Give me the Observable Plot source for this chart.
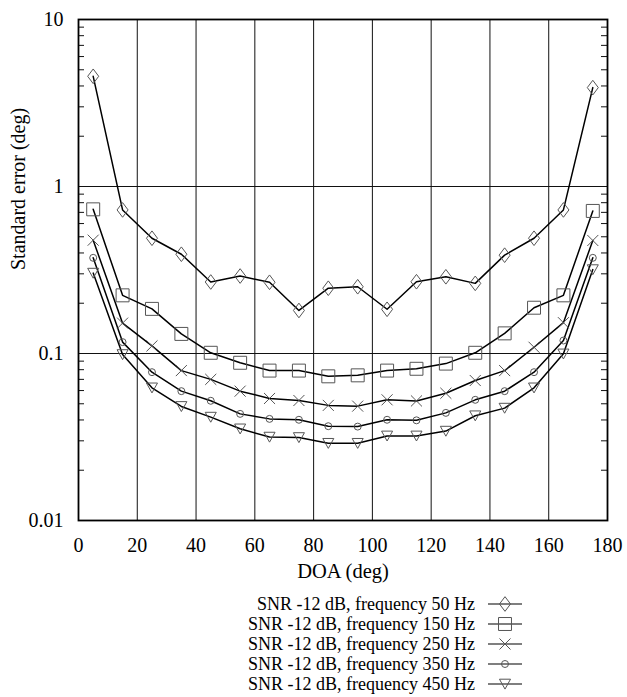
<!DOCTYPE html>
<html>
<head>
<meta charset="utf-8">
<script src="https://cdn.jsdelivr.net/npm/d3@7"></script>
<script src="https://cdn.jsdelivr.net/npm/@observablehq/plot@0.6"></script>
<style>
  html, body { margin: 0; padding: 0; background: #fff; }
  #chart svg { display: block; }
  #legend { display: block; }
</style>
</head>
<body>
<div id="chart"></div>
<svg id="legend" width="627" height="105"></svg>
<script>
// ---- data ----
const doa = [5, 15, 25, 35, 45, 55, 65, 75, 85, 95, 105, 115, 125, 135, 145, 155, 165, 175];
const seriesNames = [
  "SNR -12 dB, frequency 50 Hz",
  "SNR -12 dB, frequency 150 Hz",
  "SNR -12 dB, frequency 250 Hz",
  "SNR -12 dB, frequency 350 Hz",
  "SNR -12 dB, frequency 450 Hz"
];
const f50  = [4.57, 0.724, 0.49, 0.393, 0.268, 0.291, 0.267, 0.181, 0.246, 0.251, 0.184, 0.269, 0.288, 0.263, 0.388, 0.49, 0.724, 3.91];
const f150 = [0.73, 0.223, 0.185, 0.131, 0.101, 0.088, 0.079, 0.079, 0.073, 0.074, 0.079, 0.081, 0.087, 0.101, 0.132, 0.188, 0.223, 0.714];
const f250 = [0.477, 0.152, 0.111, 0.079, 0.070, 0.0595, 0.0538, 0.0523, 0.0489, 0.0484, 0.0528, 0.052, 0.0578, 0.0689, 0.079, 0.109, 0.153, 0.475];
const f350 = [0.374, 0.117, 0.0773, 0.0595, 0.0521, 0.0435, 0.0406, 0.0401, 0.0367, 0.0365, 0.0401, 0.0398, 0.0441, 0.0528, 0.0595, 0.0773, 0.1196, 0.374];
const f450 = [0.303, 0.0986, 0.0623, 0.0482, 0.0416, 0.0354, 0.0316, 0.0314, 0.029, 0.029, 0.0321, 0.0321, 0.0343, 0.0424, 0.0471, 0.0623, 0.0995, 0.318];
const xTicks = [0, 20, 40, 60, 80, 100, 120, 140, 160, 180];
const xGrid = [20, 40, 60, 80, 100, 120, 140, 160];
const yTicks = [0.01, 0.1, 1, 10];
const yTickLabels = ["0.01", "0.1", "1", "10"];
const yGrid = [0.1, 1];
const yMinor = [0.02,0.03,0.04,0.05,0.06,0.07,0.08,0.09, 0.2,0.3,0.4,0.5,0.6,0.7,0.8,0.9, 2,3,4,5,6,7,8,9];
const xLabel = "DOA (deg)";
const yLabel = "Standard error (deg)";

// ---- marker shapes (custom symbols, drawn relative to size) ----
function rad(size) { return Math.sqrt(size / Math.PI); }
const symDiamond = { draw(c, size) { const r = rad(size); const w = 0.92 * r, h = 1.22 * r;
  c.moveTo(0, -h); c.lineTo(w, 0); c.lineTo(0, h); c.lineTo(-w, 0); c.closePath(); } };
const symSquare = { draw(c, size) { const r = rad(size) * 1.08;
  c.moveTo(-r, -r); c.lineTo(r, -r); c.lineTo(r, r); c.lineTo(-r, r); c.closePath(); } };
const symTimes = { draw(c, size) { const r = rad(size) * 0.92;
  c.moveTo(-r, -r); c.lineTo(r, r); c.moveTo(r, -r); c.lineTo(-r, r); } };
const symCircle = { draw(c, size) { const r = rad(size) * 0.58;
  c.moveTo(r, 0); c.arc(0, 0, r, 0, 2 * Math.PI); } };
const symTriDown = { draw(c, size) { const r = rad(size);
  c.moveTo(-0.92 * r, -0.8 * r); c.lineTo(0.92 * r, -0.8 * r); c.lineTo(0, 0.85 * r); c.closePath(); } };
const symbols = [symDiamond, symSquare, symTimes, symCircle, symTriDown];
const values = [f50, f150, f250, f350, f450];

const rows = [];
values.forEach((vals, si) => vals.forEach((v, i) => rows.push({series: seriesNames[si], si, doa: doa[i], value: v})));

const W = 627, H = 592;
const mL = 78, mR = 20, mT = 19, mB = 72;
const innerW = W - mL - mR;
const font = '"Liberation Serif", "Times New Roman", Times, serif';
const markerStroke = "#555";

const marks = [
  Plot.ruleX(xGrid, {stroke: "#111", strokeWidth: 1}),
  Plot.ruleY(yGrid, {stroke: "#111", strokeWidth: 1}),
  Plot.tickY(yMinor, {y: d => d, insetRight: innerW - 6, stroke: "#111", strokeWidth: 1}),
  Plot.tickY(yMinor, {y: d => d, insetLeft: innerW - 6, stroke: "#111", strokeWidth: 1}),
  Plot.axisX({ticks: xTicks, tickSize: 0, tickPadding: 17, label: null, fontSize: 20}),
  Plot.axisY({ticks: yTicks, tickSize: 0, tickPadding: 15, label: null, fontSize: 20,
              tickFormat: d => yTickLabels[yTicks.indexOf(d)]}),
  Plot.text([xLabel], {frameAnchor: "bottom", dy: 57, fontSize: 20.5}),
  Plot.text([yLabel], {frameAnchor: "left", dx: -60, rotate: -90, fontSize: 20}),
  Plot.line(rows, {x: "doa", y: "value", z: "series", stroke: "#000", strokeWidth: 1.5}),
  ...symbols.map((s, si) => Plot.dot(rows.filter(d => d.si === si),
      {x: "doa", y: "value", symbol: s, r: 6, stroke: markerStroke, fill: "none", strokeWidth: 1})),
  Plot.frame({stroke: "#000", strokeWidth: 1.8})
];

const chart = Plot.plot({
  width: W, height: H,
  marginLeft: mL, marginRight: mR, marginTop: mT, marginBottom: mB,
  style: {fontFamily: font, fontSize: "20px", background: "#fff", color: "#000"},
  x: {domain: [0, 180]},
  y: {type: "log", domain: [0.01, 10]},
  marks
});
document.getElementById("chart").appendChild(chart);

// ---- legend below the chart ----
const lg = d3.select("#legend");
const fs = 18;
const rowY = i => 12 + i * 20;
seriesNames.forEach((name, i) => {
  const y = rowY(i);
  lg.append("text").attr("x", 475).attr("y", y + 0.32 * fs).attr("text-anchor", "end")
    .attr("font-family", font).attr("font-size", fs).attr("fill", "#000").text(name);
  lg.append("line").attr("x1", 488).attr("x2", 522).attr("y1", y).attr("y2", y)
    .attr("stroke", "#000").attr("stroke-width", 1.2);
  lg.append("path").attr("transform", `translate(505,${y})`)
    .attr("d", d3.symbol(symbols[i], Math.PI * 36)())
    .attr("fill", "none").attr("stroke", markerStroke).attr("stroke-width", 1);
});
</script>
</body>
</html>
